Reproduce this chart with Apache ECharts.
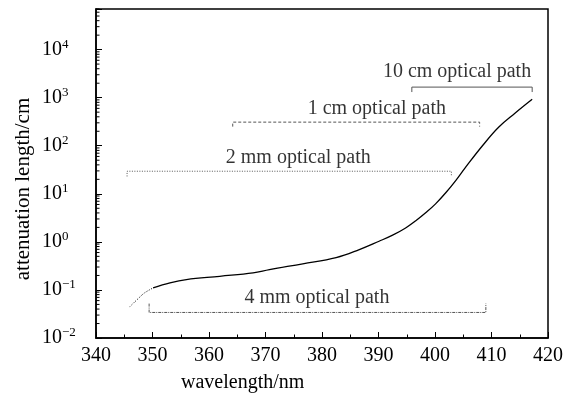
<!DOCTYPE html>
<html><head><meta charset="utf-8">
<script src="https://cdn.jsdelivr.net/npm/echarts@6/dist/echarts.min.js"></script>
<style>html,body{margin:0;padding:0;background:#fff}#c{width:566px;height:400px}</style>
</head><body><div id="c"></div>
<script>
// ---- data ----
const wavelength = [346.0, 347.8, 348.6, 350.1, 353.1, 356.0, 361.9, 367.8, 370.7, 376.6, 382.5, 386.6, 390.1, 392.5, 394.8, 396.6, 398.4, 400.1, 401.9, 403.7, 405.4, 408.4, 411.3, 414.2, 417.2];
const attenuation = [0.045, 0.072, 0.087, 0.110, 0.140, 0.164, 0.192, 0.226, 0.265, 0.35, 0.47, 0.69, 1.03, 1.38, 1.95, 2.75, 4.07, 6.17, 10.5, 19.1, 35.5, 100, 245, 479, 923];
const dottedUntil = 3; // index where the dotted start of the curve ends

const bracketNames = ['10 cm optical path', '1 cm optical path', '2 mm optical path', '4 mm optical path'];
const bracketStart = [395.9, 364.2, 345.5, 349.4];
const bracketEnd = [417.2, 407.9, 402.9, 409.0];
const bracketLevel = [1660, 310, 29.5, 0.034];
const bracketTip = [1310, 250, 23, 0.052];
const bracketLineType = ['solid', [3, 2], [1, 1.5], [3, 1, 1, 1]];
const labelX = [403.9, 389.7, 375.8, 379.1];
const labelY = [3530, 598, 57, 0.069];

const xTicks = [340, 350, 360, 370, 380, 390, 400, 410, 420];
const yDecades = [-2, -1, 0, 1, 2, 3, 4];
const yMantissas = [2, 3, 4, 5, 6, 7, 8, 9];
const yMax = 70000;

const yMinor = [];
yDecades.forEach(k => yMantissas.forEach(m => { const v = m * Math.pow(10, k); if (v <= yMax) yMinor.push(+v.toPrecision(3)); }));

const FONT = 'Liberation Serif';
const chart = echarts.init(document.getElementById('c'), null, {renderer: 'canvas'});

const curve = wavelength.map((x, i) => [x, attenuation[i]]);

const series = [
  {type: 'line', data: curve.slice(0, dottedUntil + 1), symbol: 'none', smooth: 0.4,
   lineStyle: {color: '#000', width: 1, type: [1, 1.5]}, silent: true, z: 5},
  {type: 'line', data: curve.slice(dottedUntil), symbol: 'none', smooth: 0.4,
   lineStyle: {color: '#000', width: 1.3}, silent: true, z: 5}
];
bracketNames.forEach((n, i) => {
  series.push({type: 'line', symbol: 'none', silent: true,
    data: [[bracketStart[i], bracketTip[i]], [bracketStart[i], bracketLevel[i]], [bracketEnd[i], bracketLevel[i]], [bracketEnd[i], bracketTip[i]]],
    lineStyle: {color: '#555', width: 1, type: bracketLineType[i]}});
});
series.push({type: 'scatter', symbolSize: 1, silent: true, itemStyle: {color: 'transparent'},
  data: bracketNames.map((n, i) => ({name: n, value: [labelX[i], labelY[i]]})),
  label: {show: true, position: 'inside', formatter: p => p.name, color: '#000', fontFamily: FONT, fontSize: 20}});
series.push({type: 'custom', silent: true, z: 10,
  data: yMinor.map(v => [340, v]),
  renderItem: (params, api) => {
    const p = api.coord([api.value(0), api.value(1)]);
    return {type: 'line', shape: {x1: p[0], y1: p[1], x2: p[0] + 3.5, y2: p[1]}, style: {stroke: '#000', lineWidth: 1}};
  }});

chart.setOption({
  animation: false,
  backgroundColor: '#fff',
  grid: {left: 96, right: 17, top: 9, bottom: 62, show: true, borderColor: '#000', borderWidth: 1.5, backgroundColor: 'transparent'},
  xAxis: {type: 'value', min: xTicks[0], max: xTicks[xTicks.length - 1], interval: 10,
    axisLine: {lineStyle: {color: '#000', width: 1.5}},
    axisTick: {inside: true, length: 6, lineStyle: {color: '#000', width: 1}},
    minorTick: {show: true, splitNumber: 2, length: 3.5, lineStyle: {color: '#000', width: 1}},
    axisLabel: {color: '#000', fontFamily: FONT, fontSize: 20, margin: 8},
    splitLine: {show: false}},
  yAxis: {type: 'log', logBase: 10, min: 0.01, max: yMax, splitNumber: 7,
    axisLine: {lineStyle: {color: '#000', width: 1.5}},
    axisTick: {inside: true, length: 6, lineStyle: {color: '#000', width: 1}},
    axisLabel: {align: 'left', margin: 54, color: '#000', fontFamily: FONT,
      formatter: v => {
        const e = Math.log10(v); const r = Math.round(e);
        if (Math.abs(e - r) > 1e-6 || yDecades.indexOf(r) < 0) return '';
        return '{b|10}{s|' + (r < 0 ? '\u2212' + (-r) : r) + '}';
      },
      rich: {b: {fontSize: 20, fontFamily: FONT, color: '#000', lineHeight: 24},
             s: {fontSize: 13, fontFamily: FONT, color: '#000', verticalAlign: 'top', lineHeight: 13}}},
    splitLine: {show: false}},
  graphic: [
    {type: 'text', left: 243 - 62, top: 373, style: {text: 'wavelength/nm', fontFamily: FONT, fontSize: 20, fill: '#000'}},
    {type: 'text', x: 23, y: 189, rotation: Math.PI / 2,
     style: {text: 'attenuation length/cm', fontFamily: FONT, fontSize: 21, fill: '#000', align: 'center', verticalAlign: 'middle'}}
  ],
  series: series
});
</script></body></html>
